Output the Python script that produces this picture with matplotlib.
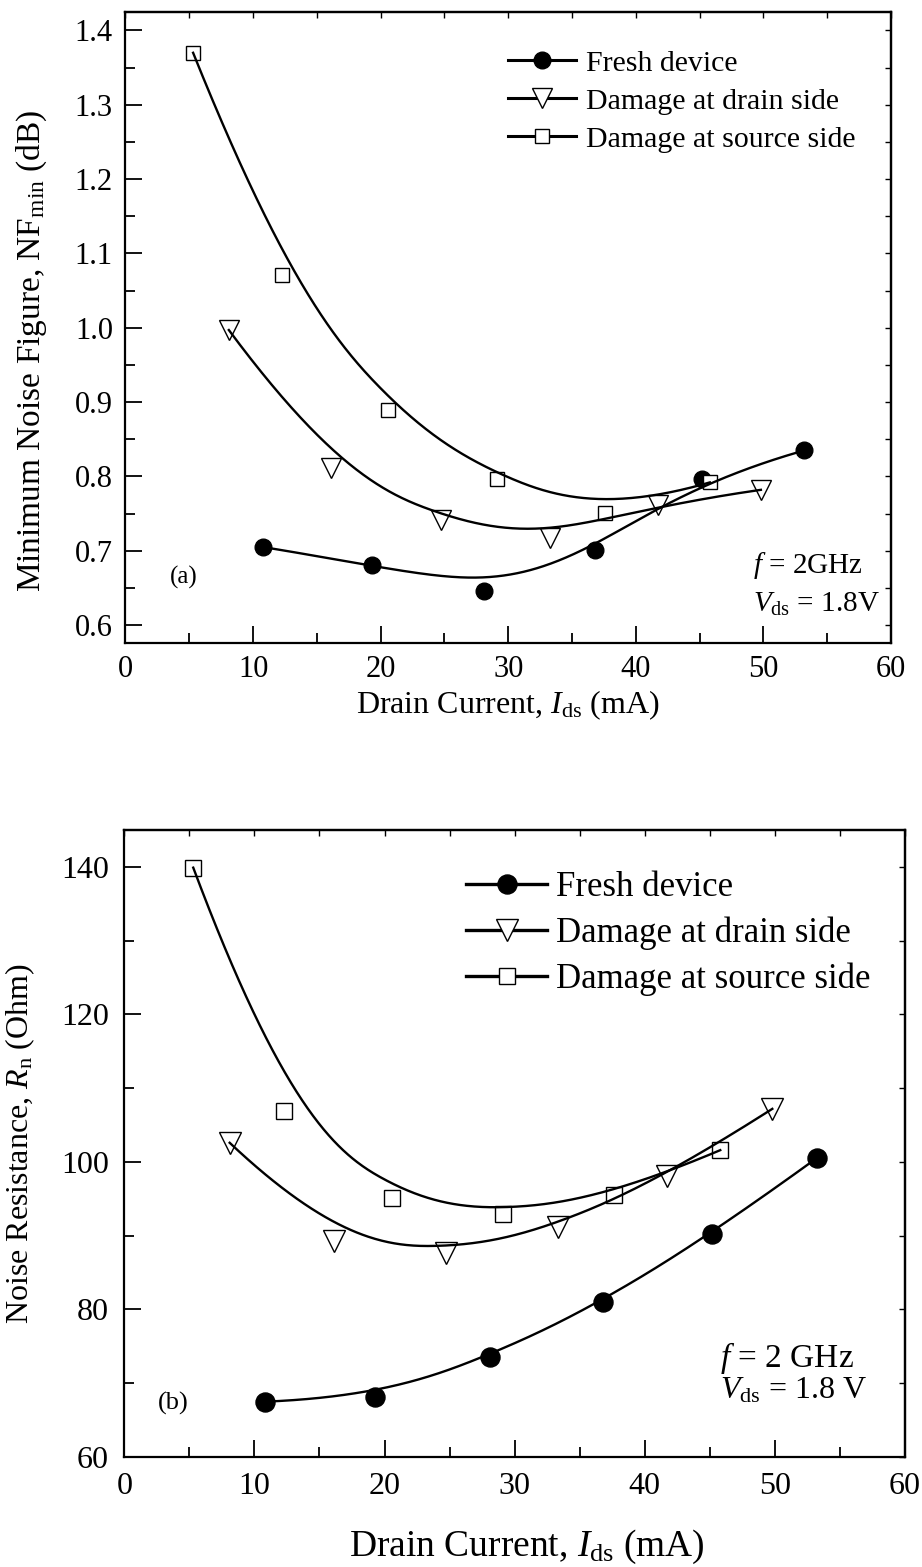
import numpy as np
import matplotlib
matplotlib.use("Agg")
import matplotlib.pyplot as plt
from matplotlib.lines import Line2D

plt.rcParams["font.family"] = "Liberation Serif"
plt.rcParams["mathtext.fontset"] = "custom"
plt.rcParams["mathtext.rm"] = "Liberation Serif"
plt.rcParams["mathtext.it"] = "Liberation Serif:italic"

series_labels = ["Fresh device", "Damage at drain side", "Damage at source side"]

# drain current (mA) at the bias points of each device
ids_fresh = [10.8, 19.3, 28.1, 36.8, 45.2, 53.2]
ids_drain = [8.1, 16.1, 24.7, 33.3, 41.7, 49.8]
ids_source = [5.3, 12.3, 20.6, 29.1, 37.6, 45.8]

# (a) minimum noise figure (dB)
nf_fresh = [0.705, 0.681, 0.646, 0.701, 0.796, 0.835]
nf_drain = [0.997, 0.812, 0.741, 0.717, 0.762, 0.782]
nf_source = [1.370, 1.071, 0.890, 0.796, 0.751, 0.792]

# (b) noise resistance (Ohm)
rn_fresh = [67.5, 68.1, 73.6, 81.0, 90.3, 100.5]
rn_drain = [102.6, 89.3, 87.6, 91.2, 98.1, 107.2]
rn_source = [139.9, 106.9, 95.1, 92.9, 95.5, 101.6]

markers = ["o", "v", "s"]
face = ["black", "white", "white"]


def bspline(xs, ys, k=3, num=400):
    """Clamped uniform B-spline using the data points as control points."""
    pts = np.column_stack([xs, ys]).astype(float)
    n = len(pts)
    knots = np.concatenate([np.zeros(k), np.linspace(0, 1, n - k + 1), np.ones(k)])
    t = np.linspace(0, 1, num)
    t[-1] = 1 - 1e-12

    def basis(i, d):
        if d == 0:
            return ((knots[i] <= t) & (t < knots[i + 1])).astype(float)
        out = np.zeros_like(t)
        span = knots[i + d] - knots[i]
        if span > 0:
            out += (t - knots[i]) / span * basis(i, d - 1)
        span = knots[i + d + 1] - knots[i + 1]
        if span > 0:
            out += (knots[i + d + 1] - t) / span * basis(i + 1, d - 1)
        return out

    curve = sum(basis(i, k)[:, None] * pts[i] for i in range(n))
    return curve[:, 0], curve[:, 1]


def draw_panel(ax, xs, ys, sizes):
    for x, y, m, fc, ms in zip(xs, ys, markers, face, sizes):
        ax.plot(x, y, ls="none", marker=m, ms=ms, mfc=fc, mec="black",
                mew=1.0, zorder=2)
        cx, cy = bspline(x, y)
        ax.plot(cx, cy, color="black", lw=1.7, zorder=3)


def style_axes(ax, xminor, ymajor, yminor, side_ystep, labelsize, pad):
    ax.set_xlim(0, 60)
    ax.set_xticks(np.arange(0, 61, 10))
    ax.set_xticks(np.arange(0, 61, xminor), minor=True)
    ax.yaxis.set_major_locator(plt.MultipleLocator(ymajor))
    ax.yaxis.set_minor_locator(plt.MultipleLocator(yminor))
    ax.tick_params(which="major", direction="in", length=12, width=1.3,
                   labelsize=labelsize, pad=pad)
    ax.tick_params(which="minor", direction="in", length=7, width=1.3)
    for sp in ax.spines.values():
        sp.set_linewidth(1.6)
    top = ax.secondary_xaxis("top")
    top.set_xticks(np.arange(0, 61, 5))
    top.tick_params(direction="in", length=4, width=1.0, labeltop=False)
    top.spines["top"].set_linewidth(1.6)
    lo, hi = ax.get_ylim()
    right = ax.secondary_yaxis("right")
    right.set_yticks(np.arange(np.ceil(lo / side_ystep) * side_ystep, hi, side_ystep))
    right.tick_params(direction="in", length=4, width=1.0, labelright=False)
    right.spines["right"].set_linewidth(1.6)


def legend_handles(sizes, lw):
    return [Line2D([], [], color="black", lw=lw, marker=m, ms=ms, mfc=fc,
                   mec="black", mew=1.0)
            for m, fc, ms in zip(markers, face, sizes)]


fig = plt.figure(figsize=(9.22, 15.67), dpi=100)

# ---- (a) NFmin ----
ax1 = fig.add_axes([0.1361, 0.5897, 0.8303, 0.4027])
sizes_a = [12, 15, 10.5]
draw_panel(ax1, [ids_fresh, ids_drain, ids_source],
           [nf_fresh, nf_drain, nf_source], sizes_a)
ax1.set_ylim(0.576, 1.425)
style_axes(ax1, 5, 0.1, 0.05, 0.05, 22, 9)
ax1.set_xlabel(r"Drain Current, $I_{\rm ds}$ (mA)", fontsize=23)
ax1.xaxis.set_label_coords(0.5, -0.072)
ax1.set_ylabel(r"Minimum Noise Figure, NF$_{\rm min}$ (dB)", fontsize=24)
ax1.yaxis.set_label_coords(-0.10, 0.462)
ax1.legend(legend_handles(sizes_a, 2.2), series_labels, loc="upper left",
           bbox_to_anchor=(0.50, 0.940), frameon=False, fontsize=21.5,
           numpoints=1, handlelength=2.27, handletextpad=0.33,
           labelspacing=0.37, borderpad=0, borderaxespad=0)
ax1.text(0.82, 0.111, r"$f$ = 2GHz", transform=ax1.transAxes,
         fontsize=21, va="baseline")
ax1.text(0.82, 0.049, r"$V_{\rm ds}$ = 1.8V", transform=ax1.transAxes,
         fontsize=21, va="baseline")
ax1.text(0.058, 0.0935, "(a)", transform=ax1.transAxes, fontsize=18,
         va="baseline")

# ---- (b) Rn ----
ax2 = fig.add_axes([0.1348, 0.0702, 0.8468, 0.4001])
sizes_b = [13.7, 16.3, 12]
draw_panel(ax2, [ids_fresh, ids_drain, ids_source],
           [rn_fresh, rn_drain, rn_source], sizes_b)
ax2.set_ylim(60, 145)
style_axes(ax2, 5, 20, 10, 10, 23, 11)
ax2.set_xlabel(r"Drain Current, $I_{\rm ds}$ (mA)", fontsize=27)
ax2.xaxis.set_label_coords(0.516, -0.113)
ax2.set_ylabel(r"Noise Resistance, $R_{\rm n}$ (Ohm)", fontsize=23)
ax2.yaxis.set_label_coords(-0.112, 0.5)
ax2.legend(legend_handles(sizes_b, 2.4), series_labels, loc="upper left",
           bbox_to_anchor=(0.438, 0.935), frameon=False, fontsize=25,
           numpoints=1, handlelength=2.33, handletextpad=0.26,
           labelspacing=0.36, borderpad=0, borderaxespad=0)
ax2.text(0.763, 0.144, r"$f$ = 2 GHz", transform=ax2.transAxes,
         fontsize=24, va="baseline")
ax2.text(0.763, 0.094, r"$V_{\rm ds}$ = 1.8 V", transform=ax2.transAxes,
         fontsize=23, va="baseline")
ax2.text(0.043, 0.075, "(b)", transform=ax2.transAxes, fontsize=19,
         va="baseline")

fig.savefig("out.png", dpi=100)
